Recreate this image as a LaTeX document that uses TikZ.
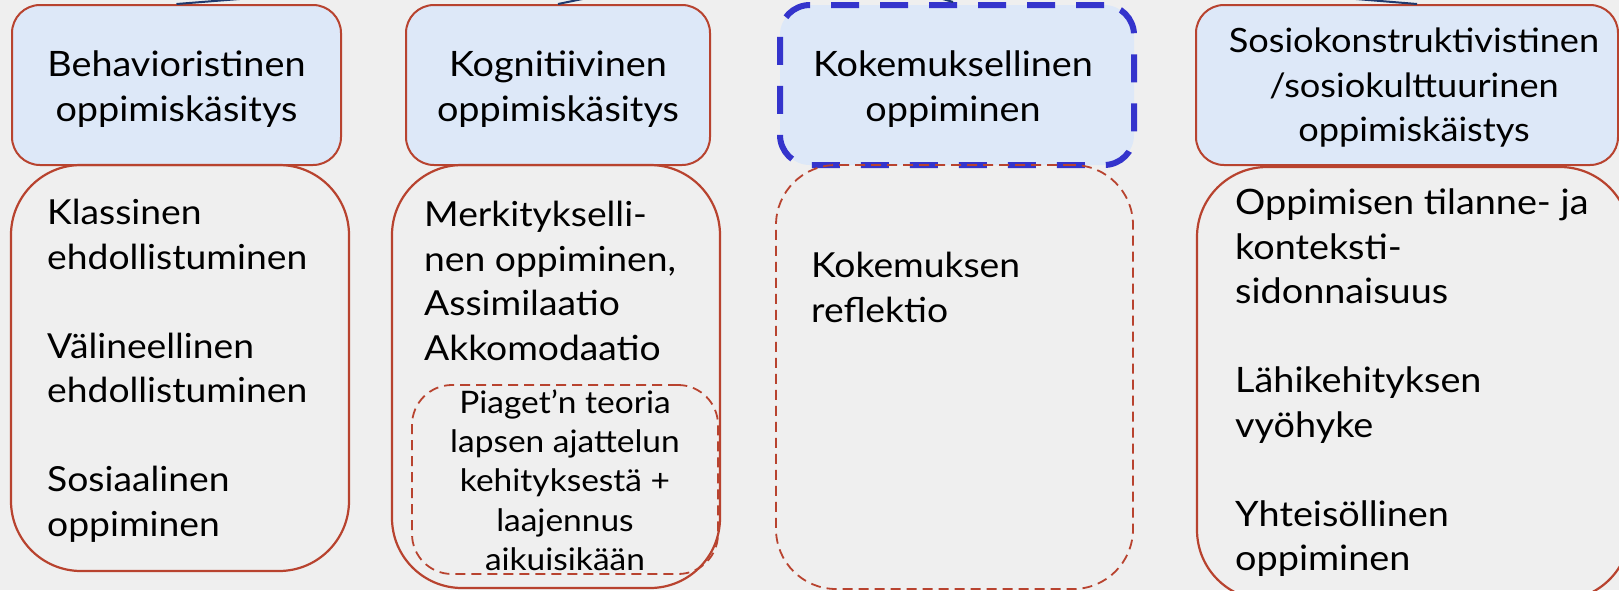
\documentclass[tikz,border=0pt]{standalone}
\usepackage{fontspec}
\setmainfont{Lato}[FakeStretch=1.08]
\definecolor{bg}{HTML}{EFEFEF}
\definecolor{topfill}{HTML}{DDE8F8}
\definecolor{brd}{HTML}{B8432F}
\definecolor{blu}{HTML}{3434CC}
\definecolor{conncol}{HTML}{1F3A6E}
\tikzset{
  topbox/.style={draw=brd, fill=topfill, line width=2pt, rounded corners=28pt, inner sep=0pt},
  bluebox/.style={draw=blu, fill=topfill, line width=6pt, dash pattern=on 28pt off 21pt, rounded corners=30pt, inner sep=0pt},
  botbox/.style={draw=brd, line width=2.2pt, rounded corners=70pt, inner sep=0pt},
  reddash/.style={draw=brd, line width=1.8pt, dash pattern=on 10pt off 6pt, inner sep=0pt},
  conn/.style={draw=conncol, line width=2pt},
  toptxt/.style={font=\fontsize{35}{44.5}\selectfont, align=center, inner sep=0pt, anchor=north},
  bodytxt/.style={font=\fontsize{34.5}{44.5}\selectfont, align=left, inner sep=0pt, anchor=north west},
  smalltxt/.style={font=\fontsize{31}{39.3}\selectfont, align=center, inner sep=0pt, anchor=north}
}
\begin{document}
\begin{tikzpicture}[x=1pt,y=-1pt]
\useasboundingbox (0,0) rectangle (1619,590);
\clip (0,0) rectangle (1619,590);
\fill[bg] (0,0) rectangle (1619,590);

% top boxes
\node[topbox, minimum width=329pt, minimum height=160pt] (t1) at (176.5,85) {};
\node[topbox, minimum width=304pt, minimum height=160pt] (t2) at (558,85) {};
\node[bluebox, minimum width=354pt, minimum height=160pt] (t3) at (957,85) {};
\node[topbox, minimum width=422pt, minimum height=160pt] (t4) at (1407,85) {};

% connectors to the parent above
\coordinate (p1) at (290,-5);
\coordinate (p2) at (602,-5);
\coordinate (p3) at (929,-5);
\coordinate (p4) at (1307,-5);
\draw[conn] (t1.north) -- (p1);
\draw[conn] (t2.north) -- (p2);
\draw[conn] ([xshift=-4pt]t3.north) -- (p3);
\draw[conn] ([xshift=10pt]t4.north) -- (p4);

% top texts
\node[toptxt] (t1txt) at (176.5,45.5) {\strut Behavioristinen\\oppimiskäsitys};
\node[toptxt] (t2txt) at (558,45.5) {\strut Kognitiivinen\\oppimiskäsitys};
\node[toptxt] (t3txt) at (953,45.5) {\strut Kokemuksellinen\\oppiminen};
\node[toptxt, font=\fontsize{33.5}{44.5}\selectfont] (t4txt) at (1414,21.5) {\strut Sosiokonstruktivistinen\\/sosiokulttuurinen\\oppimiskäistys};

% bottom boxes
\node[botbox, minimum width=338pt, minimum height=406pt] (b1) at (180,368) {};
\node[botbox, minimum width=328pt, minimum height=423pt] (b2) at (556,376.5) {};
\node[reddash, rounded corners=60pt, minimum width=357pt, minimum height=424pt] (b3) at (954.5,377) {};
\node[botbox, minimum width=433pt, minimum height=433pt] (b4) at (1413.5,383.5) {};
\node[reddash, rounded corners=40pt, minimum width=306pt, minimum height=189pt] (pg) at (565,479.5) {};

% bottom texts
\node[bodytxt] (b1txt) at (47,193.5) {\strut Klassinen\\ehdollistuminen\\[44.5pt]Välineellinen\\ehdollistuminen\\[44.5pt]Sosiaalinen\\oppiminen};
\node[bodytxt] (b2txt) at (424,195.5) {\strut Merkitykselli-\\nen oppiminen,\\Assimilaatio\\Akkomodaatio};
\node[smalltxt] (pgtxt) at (565,385.5) {\strut Piaget’n teoria\\lapsen ajattelun\\kehityksestä +\\laajennus\\aikuisikään};
\node[bodytxt] (b3txt) at (811,246.5) {\strut Kokemuksen\\reflektio};
\node[bodytxt, font=\fontsize{35}{44.5}\selectfont] (b4txt) at (1235,183.5) {\strut Oppimisen tilanne- ja\\konteksti-\\sidonnaisuus\\[44.5pt]Lähikehityksen\\vyöhyke\\[44.5pt]Yhteisöllinen\\oppiminen};
\end{tikzpicture}
\end{document}
